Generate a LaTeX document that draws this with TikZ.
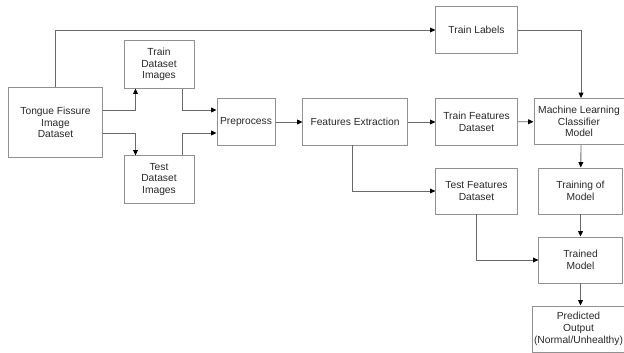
\documentclass[tikz,border=0pt]{standalone}
\usepackage{fontspec}
\setmainfont{Liberation Sans}
\usepackage{xcolor}
\usepackage{tikz}
\usetikzlibrary{arrows.meta,positioning,calc}
\definecolor{boxgray}{RGB}{145,145,145}
\definecolor{wiregray}{RGB}{105,105,105}
\definecolor{txtgray}{RGB}{40,40,40}
\newcommand{\boxfont}{\fontsize{7.3}{8.4}\selectfont}

\begin{document}
\begin{tikzpicture}[x=0.025cm,y=-0.025cm,
  blk/.style={draw=boxgray,line width=0.7pt,rectangle,align=center,
    inner sep=1pt,text=txtgray,font=\boxfont,minimum height=1.15cm},
  wire/.style={draw=wiregray,line width=0.6pt,
    -{Triangle[length=3.8pt,width=3.4pt,color=black]}}]
\useasboundingbox (0,0) rectangle (624,353);
\node[blk,minimum width=2.33cm,minimum height=1.73cm] (tongue) at (55.5,122.5)
  {Tongue Fissure\\Image\\Dataset};
\node[blk,minimum width=1.75cm,minimum height=1.18cm] (trainimg) at (159,64.5)
  {Train\\Dataset\\Images};
\node[blk,minimum width=1.75cm,minimum height=1.18cm] (testimg) at (159,179.5)
  {Test\\Dataset\\Images};
\node[blk,minimum width=1.45cm] (prep) at (246,122) {Preprocess};
\node[blk,minimum width=2.6cm] (feat) at (355,122) {Features Extraction};
\node[blk,minimum width=2.03cm] (trainlab) at (476.5,30) {Train Labels};
\node[blk,minimum width=2.03cm] (trainfeat) at (476.5,122)
  {Train Features\\Dataset};
\node[blk,minimum width=2.25cm] (ml) at (579,121.5)
  {Machine Learning\\Classifier\\Model};
\node[blk,minimum width=2.03cm] (testfeat) at (476.5,191)
  {Test Features\\Dataset};
\node[blk,minimum width=2.08cm] (training) at (580.5,191)
  {Training of\\Model};
\node[blk,minimum width=2.08cm] (trained) at (580.5,260)
  {Trained\\Model};
\node[blk,minimum width=2.25cm] (pred) at (578.5,329)
  {Predicted\\Output\\(Normal/Unhealthy)};

% split of the dataset
\draw[wire] (tongue.north) |- (trainlab.west);
\draw[wire] ($(tongue.east)+(0,-12.5)$) -| ($(trainimg.south west)+(12,0)$);
\draw[wire] ($(tongue.east)+(0,10.5)$) -| ($(testimg.north west)+(12,0)$);
\draw[wire] ($(trainimg.south east)+(-12,0)$) |- ($(prep.west)+(0,-12)$);
\draw[wire] ($(testimg.north east)+(-12,0)$) |- ($(prep.west)+(0,11)$);
% main chain
\draw[wire] (prep) -- (feat);
\draw[wire] (feat) -- (trainfeat);
\draw[wire] (trainfeat) -- (ml);
\draw[wire] ($(feat.south)+(-3,0)$) |- (testfeat.west);
\draw[wire] (trainlab.east) -| ($(ml.north)+(2,0)$);
\draw[wire] ($(ml.south)+(2,0)$) -- (training);
\draw[wire] (training) -- (trained);
\draw[wire] (trained.south) -- ($(pred.north)+(2,0)$);
\draw[wire] (testfeat.south) |- (trained.west);
\end{tikzpicture}
\end{document}
